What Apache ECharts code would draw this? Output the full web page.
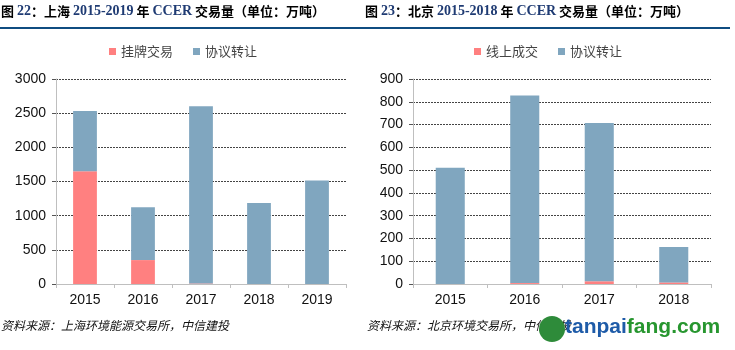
<!DOCTYPE html>
<html>
<head>
<meta charset="UTF-8">
<title>CCER 交易量</title>
<script src="https://cdn.jsdelivr.net/npm/echarts@6/dist/echarts.min.js"></script>
<style>
  html, body { margin: 0; padding: 0; background: #fff; }
  #main { width: 735px; height: 350px; }
</style>
</head>
<body>
<div id="main"></div>
<script type="text/javascript">
// 上海
var shYears = ['2015', '2016', '2017', '2018', '2019'];
var shListed = [1650, 350, 8, 0, 0];          // 挂牌交易
var shAgreement = [880, 775, 2592, 1185, 1515]; // 协议转让
// 北京
var bjYears = ['2015', '2016', '2017', '2018'];
var bjOnline = [0, 4, 12, 7];                 // 线上成交
var bjAgreement = [510, 824, 695, 155];       // 协议转让

var RED = '#FF8080';
var BLUE = '#80A6BF';
var NAVY = '#1F3B73';
var cjk = '"Noto Sans CJK SC", sans-serif';

var myChart = echarts.init(document.getElementById('main'));

function titleText(num, city, range) {
    return '{b|图 }{n|' + num + '}{b|：' + city + ' }{n|' + range + '}{b| 年 }{n|CCER}{b| 交易量（单位：万吨）}';
}
var titleRich = {
    b: { font: 'bold 13px "Noto Sans CJK SC"', fill: '#000' },
    n: { font: 'bold 14px "Liberation Serif"', fill: NAVY }
};

var axisLabel = { fontFamily: '"Liberation Sans", Arial', fontSize: 14, color: '#111' };

function xAxis(idx, data) {
    return {
        type: 'category', gridIndex: idx, data: data,
        axisLine: { lineStyle: { color: '#bfbfbf' } },
        axisTick: { show: true, length: 4, lineStyle: { color: '#bfbfbf' } },
        axisLabel: Object.assign({ margin: 9 }, axisLabel)
    };
}
function yAxis(idx, max, step) {
    return {
        type: 'value', gridIndex: idx, min: 0, max: max, interval: step,
        axisLine: { show: true, lineStyle: { color: '#bfbfbf' } },
        axisTick: { show: true, length: 4, lineStyle: { color: '#555' } },
        splitLine: { lineStyle: { color: '#444', type: [2, 1], width: 1 } },
        axisLabel: Object.assign({ margin: 10, formatter: function (v) { return String(v); } }, axisLabel)
    };
}

option = {
    animation: false,
    grid: [
        { left: 56, top: 79, width: 290, height: 205 },
        { left: 413, top: 79, width: 298, height: 205 }
    ],
    legend: [
        {
            left: 104, top: 40, itemWidth: 7, itemHeight: 7, itemGap: 20, icon: 'rect',
            textStyle: { fontFamily: cjk, fontSize: 13, color: '#444' },
            data: ['挂牌交易', '协议转让']
        },
        {
            left: 469, top: 40, itemWidth: 7, itemHeight: 7, itemGap: 20, icon: 'rect',
            textStyle: { fontFamily: cjk, fontSize: 13, color: '#444' },
            data: ['线上成交', '协议转让 ']
        }
    ],
    xAxis: [xAxis(0, shYears), xAxis(1, bjYears)],
    yAxis: [yAxis(0, 3000, 500), yAxis(1, 900, 100)],
    series: [
        { name: '挂牌交易', type: 'bar', stack: 'sh', xAxisIndex: 0, yAxisIndex: 0, barWidth: '41%',
          itemStyle: { color: RED }, data: shListed },
        { name: '协议转让', type: 'bar', stack: 'sh', xAxisIndex: 0, yAxisIndex: 0, barWidth: '41%',
          itemStyle: { color: BLUE }, data: shAgreement },
        { name: '线上成交', type: 'bar', stack: 'bj', xAxisIndex: 1, yAxisIndex: 1, barWidth: '39%',
          itemStyle: { color: RED }, data: bjOnline },
        { name: '协议转让 ', type: 'bar', stack: 'bj', xAxisIndex: 1, yAxisIndex: 1, barWidth: '39%',
          itemStyle: { color: BLUE }, data: bjAgreement }
    ],
    graphic: [
        { type: 'text', left: 1, top: 4, style: { text: titleText('22', '上海', '2015-2019'), rich: titleRich } },
        { type: 'text', left: 365, top: 4, style: { text: titleText('23', '北京', '2015-2018'), rich: titleRich } },
        { type: 'rect', shape: { x: 0, y: 27, width: 730, height: 2 }, style: { fill: '#0F4C81' } },
        { type: 'text', left: 1, top: 319,
          style: { text: '资料来源：上海环境能源交易所，中信建投', font: 'italic 12px "Noto Sans CJK SC"', fill: '#111' } },
        { type: 'text', left: 367, top: 319,
          style: { text: '资料来源：北京环境交易所，中信建投', font: 'italic 12px "Noto Sans CJK SC"', fill: '#111' } },
        { type: 'circle', shape: { cx: 552, cy: 329, r: 13 }, style: { fill: '#2E8B3A' } },
        { type: 'text', left: 565, top: 317,
          style: { text: '{a|tanpai}{g|fang.com}',
                   rich: { a: { font: 'bold 21px "Liberation Sans"', fill: '#1E5BA8' },
                           g: { font: 'bold 21px "Liberation Sans"', fill: '#27962F' } } } }
    ]
};
myChart.setOption(option);
</script>
</body>
</html>
